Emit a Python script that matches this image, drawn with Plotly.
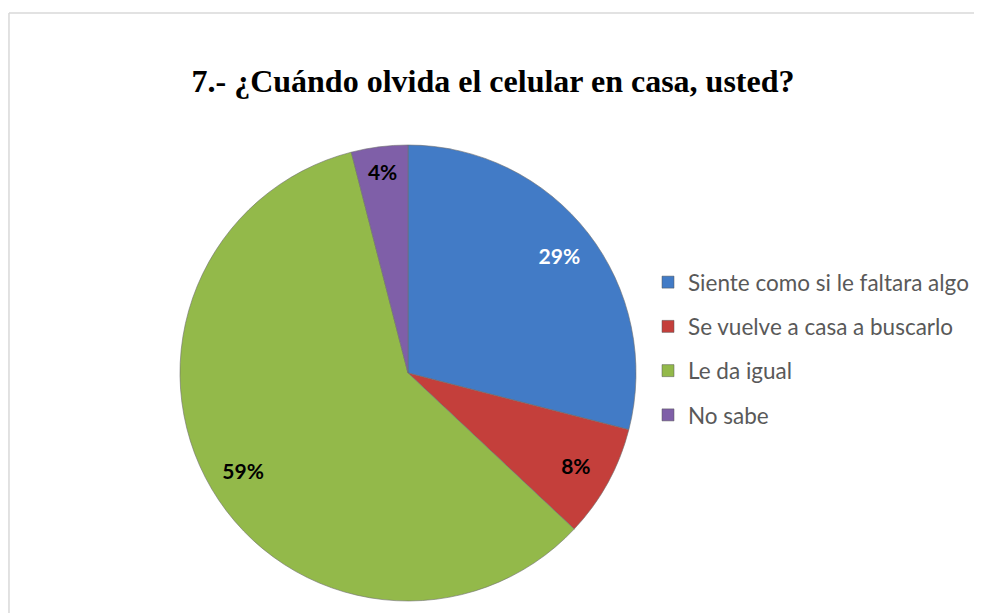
import plotly.graph_objects as go

categories = ["Siente como si le faltara algo", "Se vuelve a casa a buscarlo", "Le da igual", "No sabe"]
values = [29, 8, 59, 4]
colors = ["#427BC6", "#C43F3B", "#93B94A", "#7F5FA8"]
label_colors = ["white", "black", "black", "black"]
title_text = "7.- ¿Cuándo olvida el celular en casa, usted?"

OFF = 8  # page body margin
W, H = 982 - OFF, 613 - OFF


def px(x):
    return (x - OFF) / W


def py(y):
    return 1 - (y - OFF) / H


cx, cy, r = 408, 373, 228
dom = dict(x=[px(cx - r), px(cx + r)], y=[py(cy + r), py(cy - r)])

fig = go.Figure()
# filled pie
fig.add_trace(go.Pie(
    labels=categories, values=values, sort=False, direction="clockwise", rotation=0,
    marker=dict(colors=colors, line=dict(color="#6f6f6f", width=0.6)),
    textinfo="none", showlegend=False, hoverinfo="label+percent", domain=dom,
))
# transparent ring carrying the percentage labels near the rim
fig.add_trace(go.Pie(
    labels=categories, values=values, sort=False, direction="clockwise", rotation=0, hole=0.68,
    marker=dict(colors=["rgba(0,0,0,0)"] * len(values), line=dict(width=0)),
    texttemplate="<b>%{percent:.0%}</b>", textposition="inside", insidetextorientation="horizontal",
    textfont=dict(family="Lato", size=21, color=label_colors),
    showlegend=False, hoverinfo="skip", domain=dom,
))
for i, (c, col) in enumerate(zip(categories, colors)):
    fig.add_trace(go.Scatter(
        x=[None], y=[None], mode="markers", name=c, legendgroup=f"g{i}",
        marker=dict(symbol="square", size=12, color=col, line=dict(color="#555555", width=0.5)),
    ))

fig.update_layout(
    width=W, height=H, margin=dict(l=0, r=0, t=0, b=0),
    paper_bgcolor="white", plot_bgcolor="white",
    title=dict(text="<b>" + title_text + "</b>", x=px(493), xanchor="center", y=py(81), yanchor="middle",
               font=dict(family="Liberation Serif", size=32, color="black")),
    xaxis=dict(visible=False), yaxis=dict(visible=False),
    legend=dict(x=px(648), y=py(261), xanchor="left", yanchor="top",
                font=dict(family="Lato", size=22.5, color="#595959"),
                tracegroupgap=12, itemwidth=30, bgcolor="rgba(0,0,0,0)"),
    shapes=[
        dict(type="line", xref="paper", yref="paper", x0=0.001, x1=1.01, y0=py(13), y1=py(13),
             line=dict(color="#d9d9d9", width=1.5)),
        dict(type="line", xref="paper", yref="paper", x0=0.001, x1=0.001, y0=-0.02, y1=py(13),
             line=dict(color="#d9d9d9", width=1.5)),
    ],
)
fig.write_html("out.html")
